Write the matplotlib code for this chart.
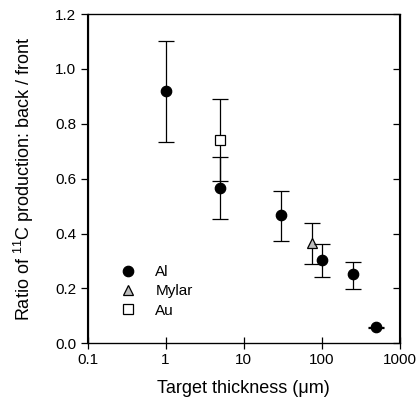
"""Ratio of 11C production back/front vs target thickness."""

import matplotlib
matplotlib.use("Agg")
import matplotlib.pyplot as plt

plt.rcParams["font.family"] = ["Liberation Sans", "DejaVu Sans"]
plt.rcParams["mathtext.fontset"] = "custom"
plt.rcParams["mathtext.rm"] = "Liberation Sans"

# Al targets
al_thick = [1, 5, 30, 100, 250, 500]
al_ratio = [0.92, 0.567, 0.466, 0.304, 0.251, 0.058]
al_err_lo = [0.187, 0.115, 0.092, 0.061, 0.052, 0.003]
al_err_hi = [0.183, 0.111, 0.090, 0.059, 0.047, 0.003]

# Mylar target
mylar_thick = [75]
mylar_ratio = [0.367]
mylar_err_lo = [0.077]
mylar_err_hi = [0.070]

# Au target
au_thick = [5]
au_ratio = [0.741]
au_err_lo = [0.148]
au_err_hi = [0.149]

x_ticks = [0.1, 1, 10, 100, 1000]
x_ticklabels = ["0.1", "1", "10", "100", "1000"]
y_ticks = [0.0, 0.2, 0.4, 0.6, 0.8, 1.0, 1.2]

fig = plt.figure(figsize=(4.17, 4.13), dpi=100)
ax = fig.add_axes([87.5 / 417, 1 - 343.3 / 413, 312 / 417, 329.3 / 413])

eb_kw = dict(ecolor="black", elinewidth=0.9, capsize=5.5, capthick=0.9,
             linestyle="none", markeredgecolor="black", markeredgewidth=0.9)

ax.errorbar(au_thick, au_ratio, yerr=[au_err_lo, au_err_hi], marker="s",
            markersize=6.5, markerfacecolor="white", label="Au", zorder=3, **eb_kw)
ax.errorbar(mylar_thick, mylar_ratio, yerr=[mylar_err_lo, mylar_err_hi], marker="^",
            markersize=7.5, markerfacecolor="#bdbdbd", label="Mylar", zorder=3, **eb_kw)
ax.errorbar(al_thick, al_ratio, yerr=[al_err_lo, al_err_hi], marker="o",
            markersize=7.5, markerfacecolor="black", label="Al", zorder=4, **eb_kw)

ax.set_xscale("log")
ax.set_xlim(0.1, 1000)
ax.set_ylim(0, 1.2)
ax.set_xticks(x_ticks)
ax.set_xticklabels(x_ticklabels)
ax.xaxis.set_minor_locator(matplotlib.ticker.NullLocator())
ax.set_yticks(y_ticks)
ax.set_yticklabels([f"{v:.1f}" for v in y_ticks])

ax.tick_params(axis="x", which="major", direction="inout", length=8, width=0.9,
               labelsize=11, pad=3, top=False)
ax.tick_params(axis="y", which="major", direction="out", length=5, width=0.9,
               labelsize=11, pad=3)
for s in ax.spines.values():
    s.set_linewidth(0.9)

# inward ticks on the right spine
ax_r = ax.twinx()
ax_r.set_ylim(ax.get_ylim())
ax_r.set_yticks(y_ticks)
ax_r.tick_params(axis="y", direction="in", length=4, width=0.9, labelright=False)

ax.set_xlabel("Target thickness (\u03bcm)", fontsize=13, labelpad=9)
ax.set_ylabel(r"Ratio of $^{11}$C production: back / front", fontsize=13, labelpad=14)

handles, labels = ax.get_legend_handles_labels()
order = [2, 1, 0]
leg = ax.legend([handles[i][0] for i in order], [labels[i] for i in order],
                loc="upper left", bbox_to_anchor=(0.085, 0.255), frameon=False,
                fontsize=11, handletextpad=1.3, labelspacing=0.33,
                handlelength=1.0, borderaxespad=0)

fig.savefig("out.png", dpi=100)
